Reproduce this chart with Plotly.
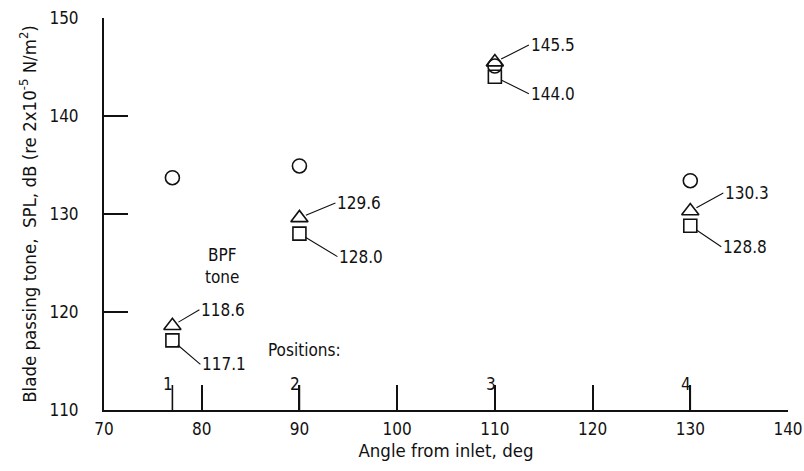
import plotly.graph_objects as go

# ---- data ----
angles = [77, 90, 110, 130]
position_labels = ["1", "2", "3", "4"]
circle_spl = [133.7, 134.9, 145.1, 133.4]
triangle_spl = [118.6, 129.6, 145.5, 130.3]
square_spl = [117.1, 128.0, 144.0, 128.8]
triangle_text = ["118.6", "129.6", "145.5", "130.3"]
square_text = ["117.1", "128.0", "144.0", "128.8"]

x_tickvals = [70, 80, 90, 100, 110, 120, 130, 140]
y_tickvals = [110, 120, 130, 140, 150]
y_min, y_max = 110, 150

# leader offsets in pixels (layout only)
tri_ax = [27, 36, 34, 33]
tri_ay = [-16, -15, -17, -18]
sq_ax = [28, 38, 34, 31]
sq_ay = [24, 23, 17, 21]

FONT = "DejaVu Sans Condensed, Liberation Sans Narrow, sans-serif"
BLACK = "#111111"
FS = 17
FT = 18.5
POS_TICK_LEN = 2.55  # position tick marks, in dB units (~25 px)

fig = go.Figure()
fig.add_trace(go.Scatter(x=angles, y=circle_spl, mode="markers",
                         marker=dict(symbol="circle-open", size=14, color=BLACK,
                                     line=dict(width=1.6, color=BLACK)),
                         name="circle", showlegend=False))
fig.add_trace(go.Scatter(x=angles, y=triangle_spl, mode="markers",
                         marker=dict(symbol="triangle-up-open", size=15, color=BLACK,
                                     line=dict(width=1.6, color=BLACK)),
                         name="triangle", showlegend=False))
fig.add_trace(go.Scatter(x=angles, y=square_spl, mode="markers",
                         marker=dict(symbol="square-open", size=13, color=BLACK,
                                     line=dict(width=1.6, color=BLACK)),
                         name="square", showlegend=False))
# position tick marks rising from the x axis at each measurement angle
fig.add_trace(go.Scatter(x=angles, y=[y_min] * len(angles), mode="markers",
                         marker=dict(size=1, color="rgba(0,0,0,0)"),
                         error_y=dict(type="data", symmetric=False,
                                      array=[POS_TICK_LEN] * len(angles),
                                      arrayminus=[0] * len(angles),
                                      width=0, thickness=1.6, color=BLACK),
                         hoverinfo="skip", showlegend=False, cliponaxis=False))

annotations = []
for i, a in enumerate(angles):
    annotations.append(dict(x=a, y=triangle_spl[i], text=triangle_text[i],
                            showarrow=True, arrowhead=0, arrowwidth=1.1,
                            arrowcolor=BLACK, ax=tri_ax[i], ay=tri_ay[i],
                            xanchor="left", standoff=7,
                            font=dict(family=FONT, size=FS, color=BLACK)))
    annotations.append(dict(x=a, y=square_spl[i], text=square_text[i],
                            showarrow=True, arrowhead=0, arrowwidth=1.1,
                            arrowcolor=BLACK, ax=sq_ax[i], ay=sq_ay[i],
                            xanchor="left", standoff=7,
                            font=dict(family=FONT, size=FS, color=BLACK)))
    annotations.append(dict(x=a, y=112.7, text=position_labels[i], showarrow=False,
                            xanchor="right", yanchor="middle", xshift=3,
                            font=dict(family=FONT, size=FS, color=BLACK)))

annotations.append(dict(x=82.1, y=124.7, text="BPF<br>tone", showarrow=False,
                        xanchor="center", yanchor="middle",
                        font=dict(family=FONT, size=FS, color=BLACK)))
annotations.append(dict(x=90.5, y=116.1, text="Positions:", showarrow=False,
                        xanchor="center", yanchor="middle",
                        font=dict(family=FONT, size=FS, color=BLACK)))

fig.update_layout(
    width=804, height=471,
    margin=dict(l=104, r=16, t=18, b=61, autoexpand=False),
    paper_bgcolor="white", plot_bgcolor="white",
    font=dict(family=FONT, size=FS, color=BLACK),
    annotations=annotations,
    showlegend=False,
    xaxis=dict(range=[70, 140], tickvals=x_tickvals,
               ticks="inside", ticklen=25, tickwidth=1.6, tickcolor=BLACK,
               showline=True, linecolor=BLACK, linewidth=2, showgrid=False,
               zeroline=False, ticklabelstandoff=3, automargin=False,
               ticklabeloverflow="allow",
               title=dict(text="Angle from inlet, deg", standoff=6,
                          font=dict(family=FONT, size=FT, color=BLACK))),
    yaxis=dict(range=[y_min, y_max], tickvals=y_tickvals,
               ticks="inside", ticklen=24, tickwidth=1.6, tickcolor=BLACK,
               showline=True, linecolor=BLACK, linewidth=2, showgrid=False,
               zeroline=False, ticklabelstandoff=20, automargin=False,
               ticklabeloverflow="allow",
               title=dict(text="Blade passing tone,  SPL, dB (re 2x10<sup>-5</sup> N/m<sup>2</sup>)",
                          standoff=8,
                          font=dict(family=FONT, size=FT, color=BLACK))),
)

# remove the page's default 8px body margin so the figure fills the window
fig.write_html("out.html", config={"displayModeBar": False},
               post_script="document.body.style.margin='0px';document.body.style.overflow='hidden';")
